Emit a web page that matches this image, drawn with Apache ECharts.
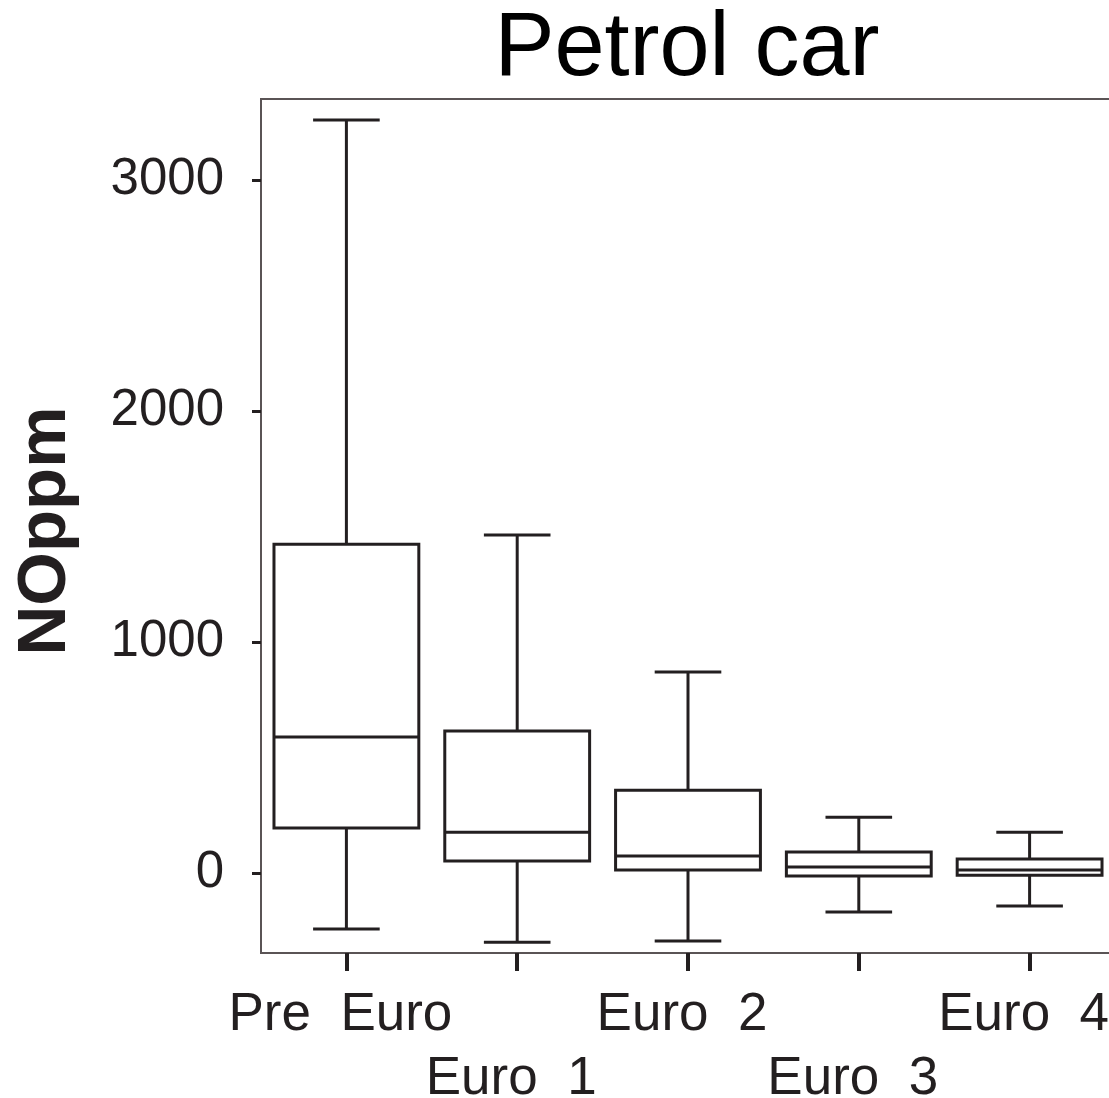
<!DOCTYPE html>
<html>
<head>
<meta charset="utf-8">
<script src="https://cdn.jsdelivr.net/npm/echarts@6/dist/echarts.min.js"></script>
<style>
html,body{margin:0;padding:0;background:#fff;}
#chart{width:1109px;height:1098px;}
</style>
</head>
<body>
<div id="chart"></div>
<script>
const categories = ['Pre  Euro', 'Euro  1', 'Euro  2', 'Euro  3', 'Euro  4'];
const whiskerLow = [-242, -299, -294, -169, -143];
const q1 = [195, 52, 13, -13, -9];
const median = [589, 177, 74, 26, 13];
const q3 = [1424, 615, 359, 91, 61];
const whiskerHigh = [3260, 1463, 870, 242, 177];
const yTicks = [0, 1000, 2000, 3000];

const FONT = "'Liberation Sans', Arial, sans-serif";
const INK = '#231f20';

const boxData = categories.map((c, i) => [i, whiskerLow[i], q1[i], median[i], q3[i], whiskerHigh[i]]);

const chart = echarts.init(document.getElementById('chart'));
chart.setOption({
  backgroundColor: '#ffffff',
  animation: false,
  graphic: [{
    type: 'text',
    x: 687, y: 50,
    style: { text: 'Petrol car', font: '90px ' + FONT, fill: '#000', align: 'center', verticalAlign: 'middle' }
  }],
  grid: {
    left: 261, top: 99, width: 854, height: 854,
    outerBoundsMode: 'none',
    containLabel: false,
    show: true, borderColor: '#5a5455', borderWidth: 2, backgroundColor: 'transparent'
  },
  xAxis: {
    type: 'category',
    data: categories,
    boundaryGap: true,
    axisLine: { show: false, onZero: false },
    axisTick: { show: true, alignWithLabel: true, length: 18, lineStyle: { color: INK, width: 4 } },
    axisLabel: {
      interval: 0, margin: 30, fontSize: 53, fontFamily: FONT, color: INK, lineHeight: 64,
      padding: [0, 12, 0, 0],
      formatter: (v, i) => (i % 2 === 1 ? '\n' + v : v)
    },
    splitLine: { show: false }
  },
  yAxis: {
    type: 'value',
    min: -346, max: 3351,
    name: 'NOppm',
    nameLocation: 'middle',
    nameRotate: 90,
    nameGap: 215,
    nameTextStyle: { fontSize: 69, fontWeight: 'bold', fontFamily: FONT, color: INK, verticalAlign: 'middle', align: 'center', padding: [0, 10, 0, 0] },
    axisLine: { show: false },
    axisTick: { show: true, customValues: yTicks, length: 9, lineStyle: { color: INK, width: 3 } },
    axisLabel: { customValues: yTicks, fontSize: 51, fontFamily: FONT, color: INK, margin: 37, formatter: v => String(v) },
    splitLine: { show: false }
  },
  series: [{
    type: 'custom',
    data: boxData,
    encode: { x: 0, y: [1, 2, 3, 4, 5] },
    renderItem: function (params, api) {
      const i = api.value(0);
      const cx = api.coord([i, 0])[0];
      const band = api.size([1, 0])[0];
      const hb = band * 0.848 / 2;
      const hc = band * 0.39 / 2;
      const y = k => api.coord([i, api.value(k)])[1];
      const yLo = y(1), yQ1 = y(2), yMed = y(3), yQ3 = y(4), yHi = y(5);
      const st = { stroke: INK, lineWidth: 3, fill: null };
      return {
        type: 'group',
        children: [
          { type: 'line', shape: { x1: cx, y1: yHi, x2: cx, y2: yQ3 }, style: st },
          { type: 'line', shape: { x1: cx, y1: yQ1, x2: cx, y2: yLo }, style: st },
          { type: 'line', shape: { x1: cx - hc, y1: yHi, x2: cx + hc, y2: yHi }, style: st },
          { type: 'line', shape: { x1: cx - hc, y1: yLo, x2: cx + hc, y2: yLo }, style: st },
          { type: 'rect', shape: { x: cx - hb, y: yQ3, width: hb * 2, height: yQ1 - yQ3 }, style: { stroke: INK, lineWidth: 3, fill: '#fff' } },
          { type: 'line', shape: { x1: cx - hb, y1: yMed, x2: cx + hb, y2: yMed }, style: st }
        ]
      };
    }
  }]
});
</script>
</body>
</html>
